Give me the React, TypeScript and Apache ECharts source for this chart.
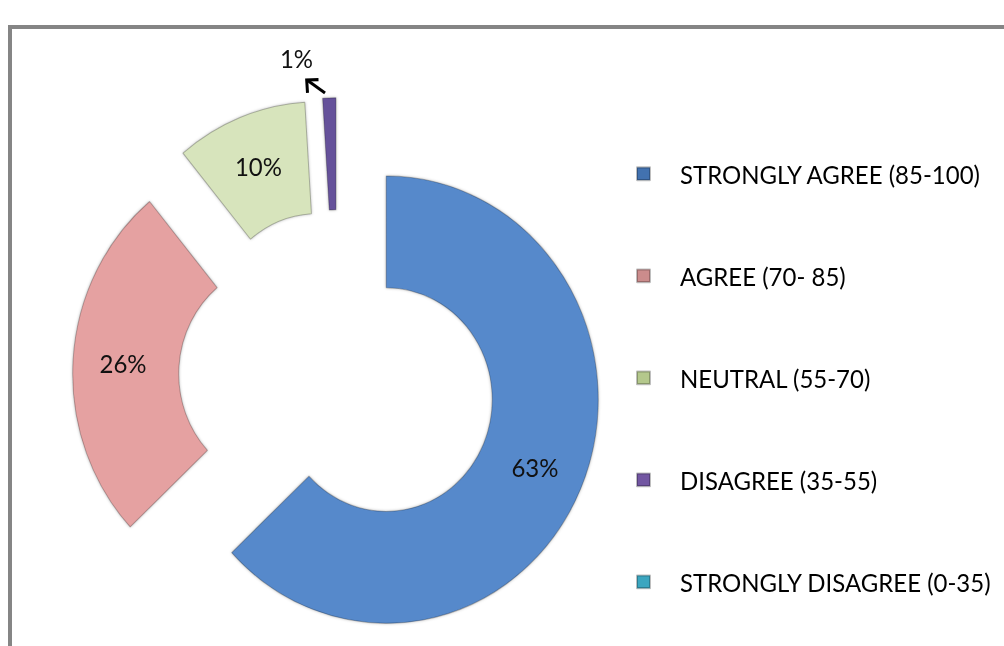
import React, { useEffect, useRef } from "react";
import * as echarts from "echarts";

const categories = [
  "STRONGLY AGREE (85-100)",
  "AGREE (70- 85)",
  "NEUTRAL (55-70)",
  "DISAGREE (35-55)",
  "STRONGLY DISAGREE (0-35)",
];
const values = [63, 26, 10, 1, 0];
const sliceColors = ["#5689CB", "#E5A1A1", "#D7E4BC", "#65519A", "#4BACC6"];
const legendColors = ["#4272B0", "#CB8C8C", "#B4C88C", "#7256A2", "#3BA6C0"];

const SY = 1.055;
const W = 1004;
const H = 646;

export default function App() {
  const ref = useRef<HTMLDivElement>(null);
  useEffect(() => {
    if (!ref.current) return;
    const chart = echarts.init(ref.current, undefined, { renderer: "svg" });
    const data = categories.map((name, i) => {
      const item: any = {
        name,
        value: values[i],
        selected: true,
        itemStyle: { color: sliceColors[i] },
      };
      if (values[i] === 0) item.label = { show: false };
      if (i === 3) {
        item.label = { position: "outside", distanceToLabelLine: 5 };
        item.labelLine = { show: false, length: 38, length2: 10 };
      }
      return item;
    });
    chart.setOption({
      animation: false,
      legend: {
        orient: "vertical",
        left: 636,
        top: 152.7,
        padding: 0,
        itemWidth: 13,
        itemHeight: 12,
        itemGap: 72.7,
        icon: "rect",
        selectedMode: false,
        textStyle: {
          fontFamily: "Lato",
          fontSize: 24,
          color: "#000",
          lineHeight: 24,
          padding: [0, 0, 0, 25],
        },
        data: categories.map((name, i) => ({
          name,
          itemStyle: { color: legendColors[i] },
        })),
      },
      graphic: [
        {
          type: "rect",
          shape: { x: 10, y: 25.6, width: 1100, height: 1000 },
          style: { fill: "none", stroke: "#858585", lineWidth: 4 },
          silent: true,
        },
        {
          type: "line",
          shape: { x1: 307, y1: 75.8, x2: 325, y2: 88.2 },
          style: { stroke: "#000", lineWidth: 3 },
          silent: true,
        },
        {
          type: "polyline",
          shape: { points: [[318.5, 75.4], [306.7, 75.8], [307.5, 88]] },
          style: { stroke: "#000", lineWidth: 3, fill: "none" },
          silent: true,
        },
      ],
      series: [
        {
          type: "pie",
          center: [337.6, 357.7],
          radius: [106, 212],
          startAngle: 90,
          clockwise: true,
          selectedMode: "multiple",
          selectedOffset: 53,
          avoidLabelOverlap: false,
          emphasis: { disabled: true },
          itemStyle: {
            borderColor: "rgba(0,0,0,0.25)",
            borderWidth: 1,
            shadowBlur: 3,
            shadowColor: "rgba(0,0,0,0.3)",
          },
          select: {
            itemStyle: {
              borderColor: "rgba(0,0,0,0.25)",
              borderWidth: 1,
            },
          },
          label: {
            show: true,
            position: "inside",
            formatter: "{c}%",
            fontFamily: "Lato",
            fontSize: 24,
            color: "#111",
          },
          labelLine: { show: false },
          data,
        },
      ],
    });
    return () => chart.dispose();
  }, []);
  return (
    <div
      ref={ref}
      style={{
        position: "fixed",
        left: 0,
        top: 0,
        width: W,
        height: Math.ceil(H / SY),
        transform: `scaleY(${SY})`,
        transformOrigin: "0 0",
        background: "#fff",
      }}
    />
  );
}
